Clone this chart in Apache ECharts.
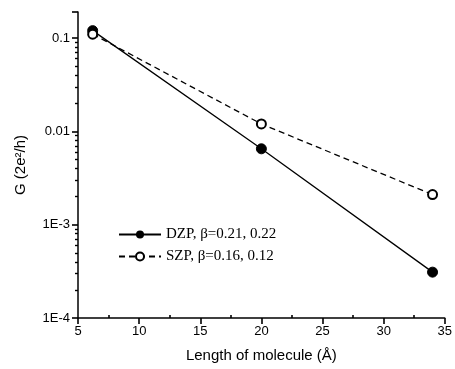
<!DOCTYPE html>
<html><head><meta charset="utf-8">
<script src="https://cdn.jsdelivr.net/npm/echarts@6/dist/echarts.min.js"></script>
<style>html,body{margin:0;padding:0;background:#fff}#c{width:455px;height:369px}</style>
</head><body><div id="c"></div>
<script>
const lengths = [6.2, 20, 34];
const dzp = [0.12, 0.0065, 0.00031];
const szp = [0.11, 0.012, 0.0021];
const yTickLabels = {'0.1':'0.1','0.01':'0.01','0.001':'1E-3','0.0001':'1E-4'};

const chart = echarts.init(document.getElementById('c'));
chart.setOption({
  animation:false,
  grid:{left:78,right:9,top:12,bottom:51},
  legend:{
    left:113, top:222, orient:'vertical', itemGap:7, itemWidth:42, itemHeight:10,
    textStyle:{fontFamily:'Liberation Serif',fontSize:15,color:'#000'},
    data:['DZP, β=0.21, 0.22','SZP, β=0.16, 0.12']
  },
  xAxis:[{
    type:'value', min:5, max:35, interval:5,
    name:'Length of molecule (Å)', nameLocation:'middle', nameGap:30,
    nameTextStyle:{fontFamily:'Liberation Sans',fontSize:15,color:'#000'},
    axisLine:{show:true,lineStyle:{color:'#000',width:1.5}},
    axisTick:{show:true,length:6,lineStyle:{color:'#000',width:1.6}},
    splitLine:{show:false},
    axisLabel:{fontFamily:'Liberation Sans',fontSize:13,color:'#000',margin:7}
  },{
    type:'value', min:5, max:35, interval:5, position:'bottom',
    axisLine:{show:false}, axisLabel:{show:false}, splitLine:{show:false},
    axisTick:{show:false,inside:true},
    minorTick:{show:true,splitNumber:2,length:3,lineStyle:{color:'#000',width:1.6}}
  }],
  yAxis:{
    type:'log', min:0.0001, max:0.19, logBase:10,
    name:'G (2e²/h)', nameLocation:'middle', nameGap:50,
    nameTextStyle:{fontFamily:'Liberation Sans',fontSize:15,color:'#000'},
    axisLine:{show:true,lineStyle:{color:'#000',width:1.5}},
    axisTick:{show:true,length:6,lineStyle:{color:'#000',width:1.6}},
    minorTick:{show:true,splitNumber:9,length:3,lineStyle:{color:'#000',width:1.4}},
    splitLine:{show:false},
    axisLabel:{fontFamily:'Liberation Sans',fontSize:13,color:'#000',margin:8,
      formatter:v=>{for(const k in yTickLabels){if(Math.abs(Math.log10(v)-Math.log10(+k))<1e-6)return yTickLabels[k];}return '';}}
  },
  series:[
    {name:'DZP, β=0.21, 0.22',type:'line',data:lengths.map((x,i)=>[x,dzp[i]]),
     symbol:'circle',symbolSize:10,
     lineStyle:{color:'#000',width:1.3},itemStyle:{color:'#000',borderColor:'#000'}},
    {name:'SZP, β=0.16, 0.12',type:'line',data:lengths.map((x,i)=>[x,szp[i]]),
     symbol:'emptyCircle',symbolSize:9,
     lineStyle:{color:'#000',width:1.3,type:[6,4]},itemStyle:{color:'#000',borderColor:'#000',borderWidth:1.5}}
  ]
});
</script></body></html>
